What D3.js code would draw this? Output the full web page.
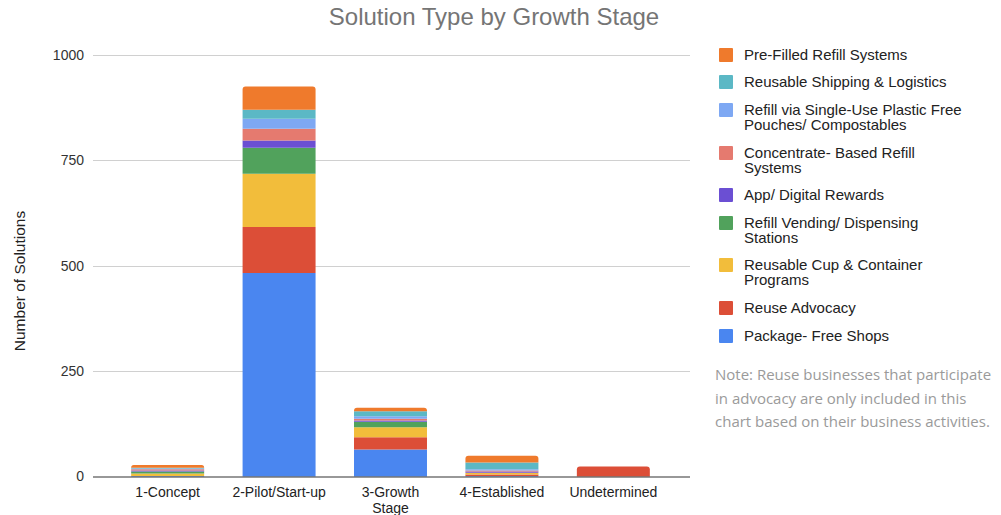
<!DOCTYPE html>
<html><head><meta charset="utf-8">
<script src="https://cdn.jsdelivr.net/npm/d3@7"></script>
<style>html,body{margin:0;padding:0;background:#fff;}svg{display:block;}
.ar{font-family:"Liberation Sans","Arimo",Arial,sans-serif;}
.os{font-family:"Open Sans",sans-serif;}
</style>
</head><body>
<svg id="chart" width="1001" height="515"></svg>
<script>
const categories = ["1-Concept", "2-Pilot/Start-up", "3-Growth\nStage", "4-Established", "Undetermined"];
const seriesNames = ["Package- Free Shops", "Reuse Advocacy", "Reusable Cup & Container Programs",
  "Refill Vending/ Dispensing Stations", "App/ Digital Rewards", "Concentrate- Based Refill Systems",
  "Refill via Single-Use Plastic Free Pouches/ Compostables", "Reusable Shipping & Logistics", "Pre-Filled Refill Systems"];
const legendLabels = [["Package- Free Shops"], ["Reuse Advocacy"], ["Reusable Cup & Container", "Programs"],
  ["Refill Vending/ Dispensing", "Stations"], ["App/ Digital Rewards"], ["Concentrate- Based Refill", "Systems"],
  ["Refill via Single-Use Plastic Free", "Pouches/ Compostables"], ["Reusable Shipping & Logistics"], ["Pre-Filled Refill Systems"]];
const colors = ["#4a86f0", "#dc4e37", "#f2bd3b", "#51a25c", "#6b4fd3", "#e57a6f", "#7ea8f3", "#5bb8c5", "#ef7a2c"];
// values per series, in category order
const packageFree   = [1, 483, 64, 1, 0];
const reuseAdvocacy = [0, 109, 29, 4, 24];
const reusableCup   = [6, 126, 24, 4, 0];
const refillVending = [5, 62, 13, 0, 0];
const appRewards    = [2, 17, 3, 3, 0];
const concentrate   = [3, 28, 4, 2, 0];
const pouches       = [2, 24, 6, 3, 0];
const shipping      = [2, 21, 12, 16, 0];
const preFilled     = [6, 55, 8, 16, 0];
const seriesValues = [packageFree, reuseAdvocacy, reusableCup, refillVending, appRewards, concentrate, pouches, shipping, preFilled];
const yTicks = [0, 250, 500, 750, 1000];
const noteLines = ["Note: Reuse businesses that participate", "in advocacy are only included in this", "chart based on their business activities."];

const svg = d3.select("#chart");
const plotL = 93, plotR = 690;
const y = d3.scaleLinear().domain([0, 1000]).range([476.5, 55]);
const x = d3.scaleBand().domain(categories).range([112, 669]).paddingInner(0.345).paddingOuter(0.172);

// title
svg.append("text").attr("class", "ar").attr("x", 494).attr("y", 25).attr("text-anchor", "middle")
  .attr("font-size", 24).attr("fill", "#757575")
  .text("Solution Type by Growth Stage");

// gridlines
svg.append("g").selectAll("line").data(yTicks.filter(d => d > 0)).join("line")
  .attr("x1", plotL).attr("x2", plotR).attr("y1", d => Math.round(y(d)) + 0.5).attr("y2", d => Math.round(y(d)) + 0.5)
  .attr("stroke", "#d0d0d0").attr("stroke-width", 1);

// y axis
const yAxis = d3.axisLeft(y).tickValues(yTicks).tickFormat(d3.format("d")).tickSize(0).tickPadding(0);
const yg = svg.append("g").attr("transform", `translate(84,0)`).call(yAxis);
yg.attr("font-family", null).attr("font-size", null);
yg.select(".domain").remove();
yg.selectAll("text").attr("class", "ar").attr("font-size", 14).attr("fill", "#333");

// y label
svg.append("text").attr("class", "ar").attr("transform", "translate(25,281) rotate(-90)").attr("text-anchor", "middle")
  .attr("font-size", 15.5).attr("fill", "#222")
  .text("Number of Solutions");

// stack
const rows = categories.map((c, i) => { const o = {cat: c}; seriesNames.forEach((s, j) => o[s] = seriesValues[j][i]); return o; });
const stacked = d3.stack().keys(seriesNames)(rows);
const totals = rows.map(r => d3.sum(seriesNames, s => r[s]));

function segPath(x0, w, yTop, yBot, rounded) {
  const r = rounded ? Math.min(3, (yBot - yTop)) : 0;
  if (!r) return `M${x0},${yBot}V${yTop}H${x0 + w}V${yBot}Z`;
  return `M${x0},${yBot}V${yTop + r}Q${x0},${yTop} ${x0 + r},${yTop}H${x0 + w - r}Q${x0 + w},${yTop} ${x0 + w},${yTop + r}V${yBot}Z`;
}

const g = svg.append("g");
stacked.forEach((layer, j) => {
  g.append("g").attr("fill", colors[j]).selectAll("path").data(layer).join("path")
    .attr("d", (d, i) => {
      if (d[1] - d[0] <= 0) return "";
      const isTop = Math.abs(d[1] - totals[i]) < 1e-9;
      return segPath(x(categories[i]), x.bandwidth(), y(d[1]), y(d[0]), isTop);
    });
});

// x axis baseline
svg.append("line").attr("x1", plotL).attr("x2", plotR).attr("y1", 477).attr("y2", 477)
  .attr("stroke", "#333").attr("stroke-width", 1.2);

// x labels
const xAxis = d3.axisBottom(x).tickSize(0).tickFormat("");
const xg = svg.append("g").attr("transform", "translate(0,477)").call(xAxis);
xg.attr("font-family", null).attr("font-size", null);
xg.select(".domain").remove();
xg.selectAll(".tick").each(function(d) {
  const t = d3.select(this).append("text").attr("class", "ar").attr("text-anchor", "middle")
    .attr("font-size", 14).attr("fill", "#222");
  d.split("\n").forEach((line, k) => t.append("tspan").attr("x", 0).attr("y", 20 + k * 16).text(line));
});

// legend (reverse order, top = last series)
const legendOrder = d3.range(seriesNames.length).reverse();
const legendY = [55, 82, 110, 153, 195, 223, 265, 308, 336];
const lg = svg.append("g");
legendOrder.forEach((j, k) => {
  const yc = legendY[k];
  lg.append("rect").attr("x", 719).attr("y", yc - 7).attr("width", 14).attr("height", 14).attr("rx", 1).attr("fill", colors[j]);
  const t = lg.append("text").attr("class", "ar").attr("font-size", 15).attr("fill", "#222");
  legendLabels[j].forEach((line, m) => t.append("tspan").attr("x", 744).attr("y", yc + 5 + m * 15).text(line));
});

// note
const nt = svg.append("text").attr("class", "os").attr("font-size", 15).attr("fill", "#9a9a9a");
noteLines.forEach((line, m) => nt.append("tspan").attr("x", 715).attr("y", 380 + m * 23.5).text(line));
</script>
</body></html>
